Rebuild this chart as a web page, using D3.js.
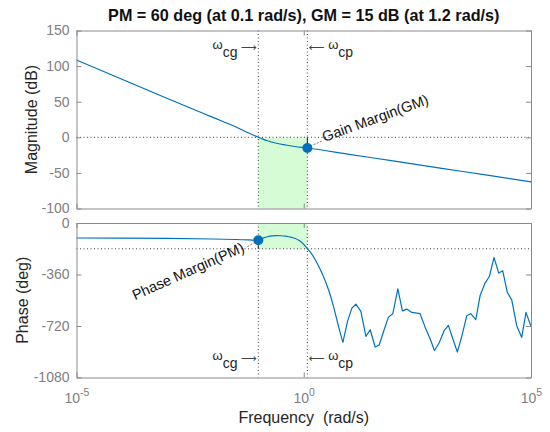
<!DOCTYPE html>
<html>
<head>
<meta charset="utf-8">
<script src="https://cdn.jsdelivr.net/npm/d3@7"></script>
<style>
body { margin: 0; background: #fff; }
svg { display: block; font-family: Arial, "Liberation Sans", sans-serif; }
</style>
</head>
<body>
<svg id="chart" width="550" height="432"></svg>
<script>
//------------------------------------------------------------------------------
//Data
//------------------------------------------------------------------------------
let titleText = "PM = 60 deg (at 0.1 rad/s), GM = 15 dB (at 1.2 rad/s)";

// magnitude: log10(w) and dB
let magLogW = [-5, -4, -3, -2, -1.5, -1.25, -1, -0.9, -0.8, -0.6, -0.4, -0.2, 0.079, 1, 2, 3, 4, 5];
let magDb   = [108.6, 81.5, 54.5, 28, 14.8, 7.2, 0, -2.6, -4.9, -8.3, -10.8, -12.9, -15, -23.9, -33.5, -43.2, -52.8, -62.5];

// phase: log10(w) and degrees (smooth part, then the ragged part)
let phLogW = [-5, -4, -3, -2, -1.5, -1.2, -1, -0.9, -0.8, -0.7, -0.6, -0.5, -0.4, -0.3, -0.2, -0.1, 0, 0.079,
              0.15, 0.253, 0.4, 0.545, 0.655, 0.765, 0.861,
              0.963, 1.059, 1.147, 1.257, 1.367, 1.462, 1.571, 1.659, 1.769, 1.864, 1.96, 2.07, 2.172, 2.268,
              2.378, 2.56, 2.67, 2.78, 2.875, 2.978, 3.088, 3.183, 3.279, 3.38, 3.477, 3.587, 3.675, 3.785,
              3.879, 3.989, 4.084, 4.187, 4.29, 4.378, 4.479, 4.576, 4.686, 4.796, 4.89, 4.994];
let phDeg   = [-105, -106, -108, -112, -115.5, -118.5, -120, -106, -96, -90, -88, -89, -92, -98, -107, -123, -150, -180,
              -205, -257, -350, -467, -583, -723, -835,
              -688, -595, -567, -618, -793, -746, -867, -853, -746, -658, -634, -460, -614, -602,
              -625, -634, -728, -809, -891, -839, -753, -716, -809, -902, -793, -648, -634, -676,
              -509, -420, -374, -241, -350, -334, -485, -537, -718, -800, -625, -718];
let smoothEnd = 24; // index of the first dip, after which the trace is drawn straight

let xTicks = [1e-5, 1, 1e5];
let xTickExp = ["-5", "0", "5"];
let magTicks = [-100, -50, 0, 50, 100, 150];
let phTicks = [-1080, -720, -360, 0];

let wcg = 0.1, wcp = 1.2;
let gmDb = 15, pmDeg = 60;

//------------------------------------------------------------------------------
//Main
//------------------------------------------------------------------------------
draw()

function draw()
{
    var svg = d3.select("#chart");
    var blue = "#0072bd", axisGrey = "#8a8a8a", tickGrey = "#808080", ink = "#262626";

    var x = d3.scaleLog().domain([1e-5, 1e5]).range([76.5, 531]);
    var yMag = d3.scaleLinear().domain([-100, 150]).range([208.5, 30.5]);
    var yPh = d3.scaleLinear().domain([-1080, 0]).range([377.5, 223]);

    var magData = magLogW.map((l, i) => ({w: Math.pow(10, l), v: magDb[i]}));
    var phData = phLogW.map((l, i) => ({w: Math.pow(10, l), v: phDeg[i]}));

    // green margin areas
    svg.append("rect")
        .attr("x", x(wcg)).attr("width", x(wcp) - x(wcg))
        .attr("y", yMag(0)).attr("height", yMag(-100) - yMag(0))
        .attr("fill", "#d6fcd6");
    svg.append("rect")
        .attr("x", x(wcg)).attr("width", x(wcp) - x(wcg))
        .attr("y", yPh(0)).attr("height", yPh(-180) - yPh(0))
        .attr("fill", "#d6fcd6");

    // dotted reference lines
    var dotted = g => g.attr("stroke", "#444").attr("stroke-width", 1).attr("stroke-dasharray", "1,2.5").attr("fill", "none");
    svg.append("line").call(dotted)
        .attr("x1", x.range()[0]).attr("x2", x.range()[1]).attr("y1", yMag(0)).attr("y2", yMag(0));
    svg.append("line").call(dotted)
        .attr("x1", x.range()[0]).attr("x2", x.range()[1]).attr("y1", yPh(-180)).attr("y2", yPh(-180));
    [wcg, wcp].forEach(w => {
        svg.append("line").call(dotted)
            .attr("x1", x(w)).attr("x2", x(w)).attr("y1", yMag.range()[1]).attr("y2", yMag.range()[0]);
        svg.append("line").call(dotted)
            .attr("x1", x(w)).attr("x2", x(w)).attr("y1", yPh.range()[1]).attr("y2", yPh.range()[0]);
    });

    // curves
    var magLine = d3.line().x(d => x(d.w)).y(d => yMag(d.v)).curve(d3.curveMonotoneX);
    var phSmooth = d3.line().x(d => x(d.w)).y(d => yPh(d.v)).curve(d3.curveMonotoneX);
    var phRough = d3.line().x(d => x(d.w)).y(d => yPh(d.v));

    svg.append("path").datum(magData).attr("d", magLine)
        .attr("fill", "none").attr("stroke", blue).attr("stroke-width", 1.2);
    svg.append("path").datum(phData.slice(0, smoothEnd + 1)).attr("d", phSmooth)
        .attr("fill", "none").attr("stroke", blue).attr("stroke-width", 1.2);
    svg.append("path").datum(phData.slice(smoothEnd)).attr("d", phRough)
        .attr("fill", "none").attr("stroke", blue).attr("stroke-width", 1.2).attr("stroke-linejoin", "round");

    // margin bars
    svg.append("line").attr("x1", x(wcp)).attr("x2", x(wcp)).attr("y1", yMag(0)).attr("y2", yMag(-gmDb))
        .attr("stroke", ink).attr("stroke-width", 1);
    svg.append("line").attr("x1", x(wcg)).attr("x2", x(wcg)).attr("y1", yPh(-180)).attr("y2", yPh(-180 + pmDeg))
        .attr("stroke", ink).attr("stroke-width", 1);

    // axes
    drawPanel(svg, x, yMag, magTicks, false);
    drawPanel(svg, x, yPh, phTicks, true);

    // margin dots
    svg.append("circle").attr("cx", x(wcp)).attr("cy", yMag(-gmDb)).attr("r", 5).attr("fill", blue);
    svg.append("circle").attr("cx", x(wcg)).attr("cy", yPh(-180 + pmDeg)).attr("r", 5).attr("fill", blue);

    // margin annotations
    var gx = x(wcp), gy = yMag(-gmDb);
    svg.append("line").attr("x1", gx + 3).attr("y1", gy - 2).attr("x2", gx + 15).attr("y2", gy - 7)
        .attr("stroke", "#555").attr("stroke-width", 0.8).attr("stroke-dasharray", "2,1.5");
    svg.append("text").attr("transform", `translate(${gx + 17},${gy - 6}) rotate(-20)`)
        .attr("font-size", 14.5).attr("fill", "#111").text("Gain Margin(GM)");

    var px = x(wcg), py = yPh(-180 + pmDeg);
    svg.append("line").attr("x1", px - 3).attr("y1", py + 2).attr("x2", px - 12).attr("y2", py + 7)
        .attr("stroke", "#555").attr("stroke-width", 0.8).attr("stroke-dasharray", "2,1.5");
    svg.append("text").attr("transform", `translate(${px - 13},${py + 11}) rotate(-24)`)
        .attr("text-anchor", "end").attr("font-size", 14.5).attr("fill", "#111").text("Phase Margin(PM)");

    // crossover labels
    [48.5, 360].forEach(base => {
        omegaLabel(svg, x(wcg) - 1.5, base, "cg", true);
        omegaLabel(svg, x(wcp) + 1.5, base, "cp", false);
    });

    // axis labels and title
    svg.append("text").attr("transform", `translate(36.5,${(yMag.range()[0] + yMag.range()[1]) / 2}) rotate(-90)`)
        .attr("text-anchor", "middle").attr("font-size", 16).attr("fill", ink).text("Magnitude (dB)");
    svg.append("text").attr("transform", `translate(28,${(yPh.range()[0] + yPh.range()[1]) / 2}) rotate(-90)`)
        .attr("text-anchor", "middle").attr("font-size", 16).attr("fill", ink).text("Phase (deg)");
    svg.append("text").attr("x", (x.range()[0] + x.range()[1]) / 2).attr("y", 422.5)
        .attr("text-anchor", "middle").attr("font-size", 16).attr("fill", ink)
        .attr("xml:space", "preserve").style("white-space", "pre").text("Frequency  (rad/s)");
    svg.append("text").attr("x", (x.range()[0] + x.range()[1]) / 2).attr("y", 20.5)
        .attr("text-anchor", "middle").attr("font-size", 16.2).attr("font-weight", "bold").attr("fill", "#111")
        .text(titleText);

    function drawPanel(svg, x, y, ticks, withLabels)
    {
        var x0 = x.range()[0], x1 = x.range()[1];
        var left = svg.append("g").attr("transform", `translate(${x0},0)`)
            .call(d3.axisLeft(y).tickValues(ticks).tickFormat(d => String(d)).tickSize(-5).tickSizeOuter(0).tickPadding(7));
        svg.append("g").attr("transform", `translate(${x1},0)`)
            .call(d3.axisRight(y).tickValues(ticks).tickSize(-5).tickSizeOuter(0).tickFormat(""));
        svg.append("g").attr("transform", `translate(0,${y.range()[1]})`)
            .call(d3.axisTop(x).tickValues(xTicks).tickSize(-5).tickSizeOuter(0).tickFormat(""));
        var bottom = svg.append("g").attr("transform", `translate(0,${y.range()[0]})`)
            .call(d3.axisBottom(x).tickValues(xTicks).tickSize(-5).tickSizeOuter(0).tickFormat(""));

        svg.selectAll(".domain, .tick line").attr("stroke", axisGrey);
        left.selectAll("text").attr("font-size", 14).attr("fill", tickGrey).attr("font-family", null);

        if (withLabels) {
            bottom.selectAll(".tick").each(function(d, i) {
                var t = d3.select(this).append("text")
                    .attr("y", 25.5).attr("text-anchor", "middle").attr("fill", tickGrey).attr("font-size", 14);
                t.append("tspan").text("10");
                t.append("tspan").attr("dy", -7).attr("font-size", 10.5).text(xTickExp[i]);
            });
        }
    }

    function omegaLabel(svg, xPos, base, sub, leftSide)
    {
        var t = svg.append("text").attr("x", xPos).attr("y", base)
            .attr("font-size", 13).attr("fill", ink)
            .attr("text-anchor", leftSide ? "end" : "start");
        if (leftSide) {
            t.append("tspan").text("\u03c9");
            t.append("tspan").attr("dy", 8).attr("font-size", 14).text(sub);
            t.append("tspan").attr("dy", -6).attr("font-family", "DejaVu Sans").attr("font-size", 11).attr("fill", "#444").text(" \u27f6");
        } else {
            t.append("tspan").attr("dy", 2).attr("font-family", "DejaVu Sans").attr("font-size", 11).attr("fill", "#444").text("\u27f5 ");
            t.append("tspan").attr("dy", -2).text("\u03c9");
            t.append("tspan").attr("dy", 8).attr("font-size", 14).text(sub);
        }
    }
}
</script>
</body>
</html>
